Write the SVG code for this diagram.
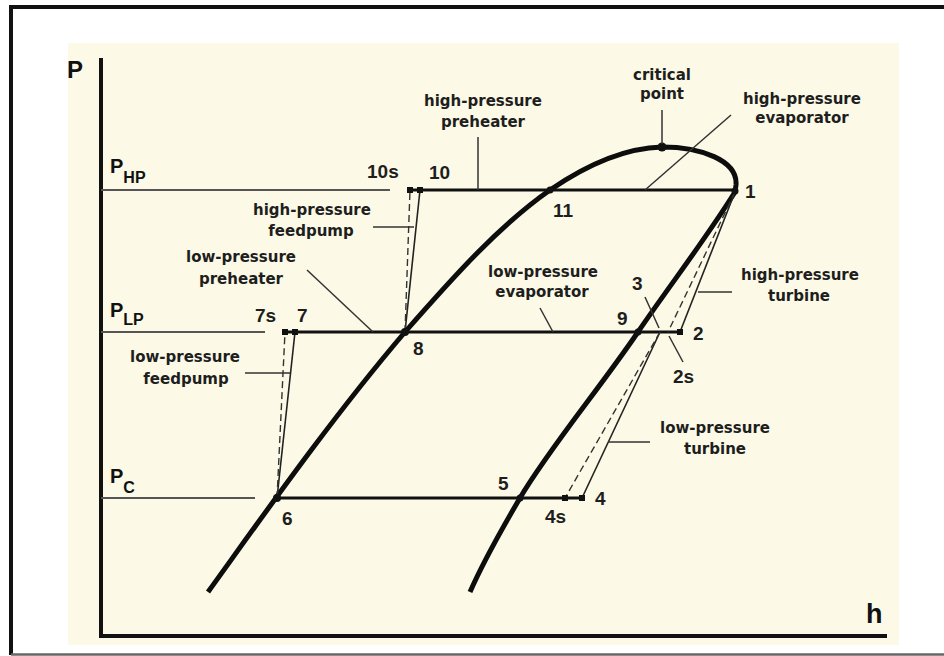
<svg xmlns="http://www.w3.org/2000/svg" width="944" height="656" viewBox="0 0 944 656">
<style>
.lbl{font-family:"DejaVu Sans","Liberation Sans",sans-serif;font-weight:bold;font-size:15px;fill:#1e1e1e;text-anchor:middle}
.num{font-family:"Liberation Sans",Arial,sans-serif;font-weight:bold;font-size:19px;fill:#1e1e1e}
.ax{font-family:"Liberation Sans",Arial,sans-serif;font-weight:bold;fill:#111}
.pl{stroke:#555;stroke-width:2;fill:none}
.proc{stroke:#111;stroke-width:3;fill:none}
.thin{stroke:#222;stroke-width:1.6;fill:none}
.dash{stroke:#333;stroke-width:1.4;fill:none;stroke-dasharray:7 4}
.lead{stroke:#333;stroke-width:1.5;fill:none}
.dome{stroke:#0d0d0d;stroke-width:5;fill:none;stroke-linejoin:round}
.dot{fill:#111}
</style>
<rect x="0" y="0" width="944" height="656" fill="#ffffff"/>
<path d="M11,655 V7 H944" stroke="#111" stroke-width="4" fill="none"/>
<line x1="11" y1="654.5" x2="944" y2="654.5" stroke="#666" stroke-width="2.5"/>
<rect x="68" y="43" width="831" height="602" fill="#fcfae6"/>

<g id="axes">
  <path d="M101,58 V636 H887" stroke="#111" stroke-width="4" fill="none"/>
  <text class="ax" x="67" y="78" font-size="24">P</text>
  <text class="ax" x="866" y="623" font-size="27">h</text>
</g>

<g id="pressure-levels">
  <line class="pl" x1="101" y1="190" x2="390" y2="190"/>
  <line class="pl" x1="101" y1="332" x2="265" y2="332"/>
  <line class="pl" x1="101" y1="498" x2="255" y2="498"/>
  <text class="ax" x="110" y="173" font-size="20">P<tspan font-size="16" dy="10">HP</tspan></text>
  <text class="ax" x="110" y="317" font-size="20">P<tspan font-size="16" dy="8">LP</tspan></text>
  <text class="ax" x="110" y="483" font-size="20">P<tspan font-size="16" dy="10">C</tspan></text>
</g>

<g id="saturation-dome">
  <path class="dome" d="M208,592 C260,520 330,420 405,332 C455,275 500,225 550,190 C585,166 625,148 662,147 C700,147 738,160 736,185 L735,192 C705,240 670,285 638,332 C600,388 548,450 520,498 C500,532 484,560 470,592"/>
  <circle class="dot" cx="662" cy="147" r="4.5"/>
</g>

<g id="connectors">
  <line class="proc" x1="407" y1="190" x2="735" y2="190"/>
  <line class="proc" x1="283" y1="332" x2="682" y2="332"/>
  <line class="proc" x1="275" y1="498" x2="584" y2="498"/>
  <line class="thin" x1="277" y1="498" x2="295" y2="332"/>
  <line class="dash" x1="277" y1="498" x2="285" y2="332"/>
  <line class="thin" x1="405" y1="332" x2="420" y2="190"/>
  <line class="dash" x1="405" y1="332" x2="410" y2="190"/>
  <line class="thin" x1="735" y1="192" x2="680" y2="332"/>
  <line class="dash" x1="735" y1="192" x2="668" y2="332"/>
  <line class="thin" x1="660" y1="332" x2="582" y2="498"/>
  <line class="dash" x1="660" y1="332" x2="565" y2="498"/>
</g>

<g id="points">
  <rect class="dot" x="407" y="187" width="6" height="6"/>
  <rect class="dot" x="417" y="187" width="6" height="6"/>
  <rect class="dot" x="282" y="329" width="6" height="6"/>
  <rect class="dot" x="292" y="329" width="6" height="6"/>
  <rect class="dot" x="677" y="329" width="6" height="6"/>
  <rect class="dot" x="562" y="495" width="6" height="6"/>
  <rect class="dot" x="579" y="495" width="6" height="6"/>
  <circle class="dot" cx="277" cy="498" r="4"/>
  <circle class="dot" cx="405" cy="332" r="4"/>
  <circle class="dot" cx="550" cy="190" r="3.5"/>
  <circle class="dot" cx="638" cy="332" r="3.5"/>
  <circle class="dot" cx="520" cy="498" r="3.5"/>
  <circle class="dot" cx="735" cy="191" r="3.5"/>
</g>

<g id="point-labels">
  <text class="num" x="367" y="178">10s</text>
  <text class="num" x="429" y="179">10</text>
  <text class="num" x="553" y="217">11</text>
  <text class="num" x="745" y="198">1</text>
  <text class="num" x="255" y="322">7s</text>
  <text class="num" x="297" y="322">7</text>
  <text class="num" x="413" y="355">8</text>
  <text class="num" x="617" y="325">9</text>
  <text class="num" x="632" y="290">3</text>
  <text class="num" x="693" y="340">2</text>
  <text class="num" x="673" y="383">2s</text>
  <text class="num" x="498" y="490">5</text>
  <text class="num" x="595" y="505">4</text>
  <text class="num" x="545" y="523">4s</text>
  <text class="num" x="282" y="525">6</text>
</g>

<g id="leaders">
  <line class="lead" x1="662" y1="110" x2="662" y2="144"/>
  <line class="lead" x1="731" y1="115" x2="645" y2="190"/>
  <line class="lead" x1="478" y1="137" x2="478" y2="190"/>
  <line class="lead" x1="373" y1="227" x2="414" y2="227"/>
  <line class="lead" x1="307" y1="270" x2="373" y2="332"/>
  <line class="lead" x1="540" y1="308" x2="553" y2="332"/>
  <line class="lead" x1="698" y1="292" x2="732" y2="292"/>
  <line class="lead" x1="645" y1="297" x2="659" y2="328"/>
  <line class="lead" x1="669" y1="336" x2="683" y2="362"/>
  <line class="lead" x1="608" y1="442" x2="650" y2="442"/>
  <line class="lead" x1="245" y1="373" x2="290" y2="373"/>
</g>

<g id="label-critical-point"><text class="lbl" x="662" y="80">critical</text><text class="lbl" x="662" y="99">point</text></g>
<g id="label-hp-preheater"><text class="lbl" x="483" y="106">high-pressure</text><text class="lbl" x="483" y="127">preheater</text></g>
<g id="label-hp-evaporator"><text class="lbl" x="802" y="104">high-pressure</text><text class="lbl" x="802" y="123">evaporator</text></g>
<g id="label-hp-feedpump"><text class="lbl" x="312" y="215">high-pressure</text><text class="lbl" x="311" y="236">feedpump</text></g>
<g id="label-lp-preheater"><text class="lbl" x="241" y="262">low-pressure</text><text class="lbl" x="241" y="284">preheater</text></g>
<g id="label-lp-feedpump"><text class="lbl" x="185" y="362">low-pressure</text><text class="lbl" x="186" y="384">feedpump</text></g>
<g id="label-lp-evaporator"><text class="lbl" x="543" y="277">low-pressure</text><text class="lbl" x="542" y="297">evaporator</text></g>
<g id="label-hp-turbine"><text class="lbl" x="800" y="280">high-pressure</text><text class="lbl" x="799" y="301">turbine</text></g>
<g id="label-lp-turbine"><text class="lbl" x="715" y="433">low-pressure</text><text class="lbl" x="715" y="454">turbine</text></g>
</svg>
